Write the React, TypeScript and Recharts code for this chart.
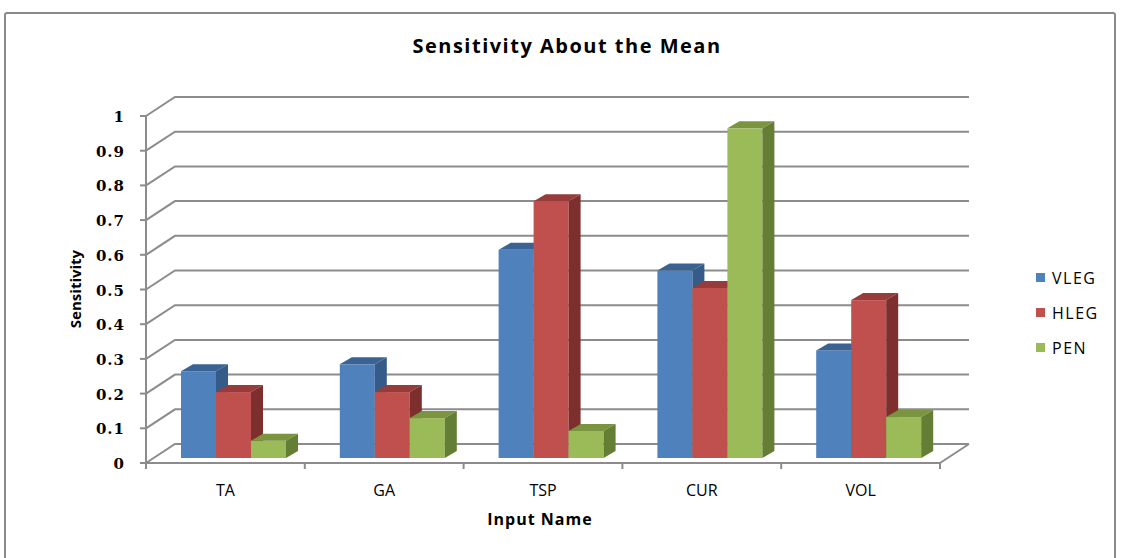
import React from 'react';
import { BarChart, Bar, XAxis, YAxis, CartesianGrid } from 'recharts';

const categories = ['TA', 'GA', 'TSP', 'CUR', 'VOL'];
const vlegValues = [0.25, 0.27, 0.6, 0.54, 0.31];
const hlegValues = [0.19, 0.19, 0.74, 0.49, 0.455];
const penValues = [0.05, 0.115, 0.078, 0.95, 0.118];
const yTicks = [0, 0.1, 0.2, 0.3, 0.4, 0.5, 0.6, 0.7, 0.8, 0.9, 1];

const seriesStyles = [
  { key: 'VLEG', front: '#4F81BD', top: '#3A6394', side: '#355B88' },
  { key: 'HLEG', front: '#C0504D', top: '#973C3A', side: '#7D2F2D' },
  { key: 'PEN', front: '#9BBB59', top: '#7A943F', side: '#657E36' },
];

const data = categories.map((name, i) => ({
  name,
  VLEG: vlegValues[i],
  HLEG: hlegValues[i],
  PEN: penValues[i],
}));

// layout of the front plane and the 3D offsets
const W = 1123;
const H = 558;
const FRONT_LEFT = 146;
const FRONT_RIGHT = 940;
const FRONT_TOP = 116;
const FRONT_BOTTOM = 463;
const DEPTH_DX = 29;
const DEPTH_DY = -19;
const BAR_DX = 8;
const BAR_DY = -5;
const BAR_DEPTH_DX = 12;
const BAR_DEPTH_DY = -7;
const Y_AXIS_W = 80;
const X_AXIS_H = 60;
const BAND = (FRONT_RIGHT - FRONT_LEFT) / categories.length;
const GRID = '#8c8c8c';

const make3DBar = (front: string, top: string, side: string) => (props: any) => {
  const { x, y, width, height } = props;
  if (width == null || height == null) return <g />;
  const fx = x + BAR_DX;
  const fy = y + BAR_DY;
  const dx = BAR_DEPTH_DX;
  const dy = BAR_DEPTH_DY;
  return (
    <g>
      <rect x={fx} y={fy} width={width} height={height} fill={front} />
      <polygon
        points={`${fx},${fy} ${fx + dx},${fy + dy} ${fx + width + dx},${fy + dy} ${fx + width},${fy}`}
        fill={top}
      />
      <polygon
        points={`${fx + width},${fy} ${fx + width + dx},${fy + dy} ${fx + width + dx},${fy + height + dy} ${fx + width},${fy + height}`}
        fill={side}
      />
    </g>
  );
};

const renderGridLine = (props: any) => {
  const { x1, y1, x2, index } = props;
  const by = y1 + DEPTH_DY;
  let d = `M${x1},${y1} L${x1 + DEPTH_DX},${by} L${x2 + DEPTH_DX},${by}`;
  if (Math.abs(y1 - FRONT_BOTTOM) < 1) d += ` M${x2},${y1} L${x2 + DEPTH_DX},${by}`;
  return <path key={`grid-${index}-${y1}`} d={d} stroke={GRID} strokeWidth={2} fill="none" />;
};

const ValueTick = (props: any) => {
  const { y, payload } = props;
  return (
    <text
      x={125}
      y={y + 6}
      textAnchor="end"
      fontFamily="'DejaVu Serif', 'Liberation Serif', serif"
      fontWeight={700}
      fontSize={15}
      letterSpacing={1}
      fill="#000"
    >
      {payload.value}
    </text>
  );
};

const CategoryTick = (props: any) => {
  const { x, payload, index } = props;
  const half = BAND / 2;
  return (
    <g>
      <line x1={x + half} y1={FRONT_BOTTOM} x2={x + half} y2={FRONT_BOTTOM + 6} stroke={GRID} strokeWidth={2} />
      {index === 0 && (
        <line x1={x - half} y1={FRONT_BOTTOM} x2={x - half} y2={FRONT_BOTTOM + 6} stroke={GRID} strokeWidth={2} />
      )}
      <text
        x={x}
        y={496}
        textAnchor="middle"
        fontFamily="'Open Sans', sans-serif"
        fontWeight={500}
        fontSize={16}
        fill="#000"
      >
        {payload.value}
      </text>
    </g>
  );
};

export default function App() {
  return (
    <div style={{ position: 'absolute', left: 0, top: 0, width: W, height: H, background: '#fff', overflow: 'hidden' }}>
      <div
        style={{
          position: 'absolute',
          left: 4,
          top: 12,
          width: 1112,
          height: 560,
          border: '2px solid #8a8a8a',
          borderRadius: 3,
          boxSizing: 'border-box',
        }}
      />
      <div
        style={{
          position: 'absolute',
          left: 0,
          top: 32,
          width: 1134,
          textAlign: 'center',
          fontFamily: "'Open Sans', sans-serif",
          fontWeight: 700,
          fontSize: 20,
          letterSpacing: 1.5,
          color: '#000',
        }}
      >
        Sensitivity About the Mean
      </div>
      <div
        style={{
          position: 'absolute',
          left: 440,
          top: 508,
          width: 200,
          textAlign: 'center',
          fontFamily: "'Open Sans', sans-serif",
          fontWeight: 700,
          fontSize: 16,
          letterSpacing: 1,
          color: '#000',
        }}
      >
        Input Name
      </div>
      <div
        style={{
          position: 'absolute',
          left: 25,
          top: 279,
          width: 100,
          textAlign: 'center',
          transform: 'rotate(-90deg)',
          fontFamily: "'Open Sans', sans-serif",
          fontWeight: 700,
          fontSize: 15,
          color: '#000',
        }}
      >
        Sensitivity
      </div>
      <div
        style={{
          position: 'absolute',
          left: 1036,
          top: 260,
          fontFamily: "'Open Sans', sans-serif",
          fontWeight: 500,
          fontSize: 16,
          color: '#000',
        }}
      >
        {seriesStyles.map((s) => (
          <div key={s.key} style={{ display: 'flex', alignItems: 'center', height: 35 }}>
            <span style={{ display: 'inline-block', width: 9, height: 9, background: s.front, marginRight: 7 }} />
            <span style={{ letterSpacing: 1.5 }}>{s.key}</span>
          </div>
        ))}
      </div>
      <div style={{ position: 'absolute', left: 0, top: 0 }}>
        <BarChart
          width={W}
          height={H}
          data={data}
          barSize={35}
          barGap={0}
          margin={{
            top: FRONT_TOP,
            bottom: H - FRONT_BOTTOM - X_AXIS_H,
            left: FRONT_LEFT - Y_AXIS_W,
            right: W - FRONT_RIGHT,
          }}
        >
          <CartesianGrid horizontal={renderGridLine} vertical={false} />
          <XAxis
            dataKey="name"
            height={X_AXIS_H}
            axisLine={{ stroke: GRID, strokeWidth: 2 }}
            tickLine={false}
            tick={<CategoryTick />}
            interval={0}
          />
          <YAxis
            width={Y_AXIS_W}
            domain={[0, 1]}
            ticks={yTicks}
            interval={0}
            axisLine={{ stroke: GRID, strokeWidth: 2 }}
            tickLine={{ stroke: GRID, strokeWidth: 2 }}
            tickSize={6}
            tick={<ValueTick />}
          />
          {seriesStyles.map((s) => (
            <Bar
              key={s.key}
              dataKey={s.key}
              fill={s.front}
              isAnimationActive={false}
              shape={make3DBar(s.front, s.top, s.side)}
            />
          ))}
        </BarChart>
      </div>
    </div>
  );
}
